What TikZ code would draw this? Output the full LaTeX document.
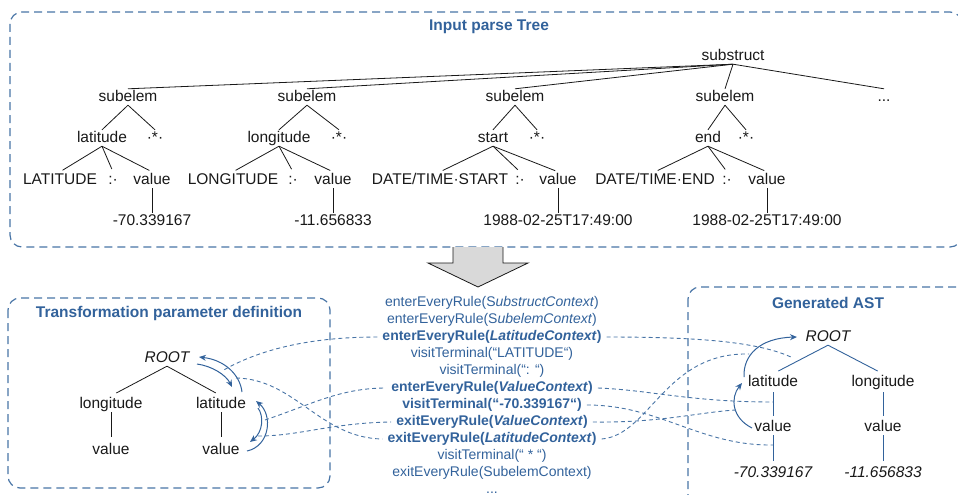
\documentclass[tikz,border=0pt]{standalone}
\usepackage{fontspec}
\setmainfont{Liberation Sans}
\usetikzlibrary{arrows.meta}
\definecolor{bl}{RGB}{50,98,155}
\definecolor{pl}{RGB}{72,116,166}
\definecolor{dk}{RGB}{25,25,25}
\definecolor{ag}{RGB}{217,217,217}
\newcommand\treefont{\fontsize{15.5}{18}\selectfont}
\newcommand\listfont{\fontsize{14}{16}\selectfont}
\newcommand\headfont{\fontsize{15.5}{18}\selectfont\bfseries}
\begin{document}
\begin{tikzpicture}[x=1pt,y=-1pt,
 tn/.style={font=\treefont,text=dk,inner sep=1pt,text height=11pt,text depth=3pt},
 ml/.style={font=\listfont,text=bl,inner xsep=5pt,inner ysep=1pt},
 ttl/.style={font=\headfont,text=bl},
 te/.style={draw=dk,line width=0.8pt},
 be/.style={draw=bl,line width=0.9pt},
 panel/.style={draw=pl,line width=1.2pt,dash pattern=on 8pt off 5pt,rounded corners=12pt},
 conn/.style={draw=pl,line width=0.9pt,dash pattern=on 4pt off 3pt},
 arcarrow/.style={draw=bl,line width=1pt,-{Stealth[length=7pt,width=6pt]}}]
\useasboundingbox (0,0) rectangle (958,495);

% panels
\draw[panel] (10,12) rectangle (962,247);
\draw[panel] (8,298) rectangle (330,488);
\draw[panel] (688,287) rectangle (980,520);

% big arrow
\fill[ag] (453,247) -- (453,263) -- (428,263) -- (478,287) -- (528,263) -- (503,263) -- (503,247) -- cycle;
\draw[draw=dk,line width=0.8pt] (453,247) -- (453,263) -- (428,263) -- (478,287) -- (528,263) -- (503,263) -- (503,247);

% titles
\node[ttl] (t1) at (489,27) {Input parse Tree};
\node[ttl] (t2) at (169,313) {Transformation parameter definition};
\node[ttl] (t3) at (828,303) {Generated AST};

% input parse tree
\node[tn] (sub) at (733,56) {substruct};
\node[tn] (s1) at (128,97) {subelem};
\node[tn] (s2) at (307,97) {subelem};
\node[tn] (s3) at (515,97) {subelem};
\node[tn] (s4) at (725,97) {subelem};
\node[tn] (s5) at (884,97) {...};
\node[tn] (lat) at (102,138) {latitude};
\node[tn] (st1) at (155,138) {·*·};
\node[tn] (lon) at (279,138) {longitude};
\node[tn] (st2) at (339,138) {·*·};
\node[tn] (sta) at (493,138) {start};
\node[tn] (st3) at (537,138) {·*·};
\node[tn] (en) at (708,138) {end};
\node[tn] (st4) at (746,138) {·*·};
\node[tn] (LAT) at (60,180) {LATITUDE};
\node[tn] (c1) at (113,180) {:·};
\node[tn] (v1) at (152,180) {value};
\node[tn] (LON) at (233,180) {LONGITUDE};
\node[tn] (c2) at (293,180) {:·};
\node[tn] (v2) at (333,180) {value};
\node[tn] (DTS) at (440,180) {DATE/TIME·START};
\node[tn] (c3) at (520,180) {:·};
\node[tn] (v3) at (558,180) {value};
\node[tn] (DTE) at (655,180) {DATE/TIME·END};
\node[tn] (c4) at (727,180) {:·};
\node[tn] (v4) at (767,180) {value};
\node[tn] (n1) at (152,221) {-70.339167};
\node[tn] (n2) at (333,221) {-11.656833};
\node[tn] (n3) at (558,221) {1988-02-25T17:49:00};
\node[tn] (n4) at (767,221) {1988-02-25T17:49:00};

\foreach \s in {s1,s2,s3,s4,s5} \draw[te] (sub.south) -- (\s.north);
\draw[te] (s1.south) -- (lat.north); \draw[te] (s1.south) -- (st1.north);
\draw[te] (s2.south) -- (lon.north); \draw[te] (s2.south) -- (st2.north);
\draw[te] (s3.south) -- (sta.north); \draw[te] (s3.south) -- (st3.north);
\draw[te] (s4.south) -- (en.north); \draw[te] (s4.south) -- (st4.north);
\foreach \p/\a/\b/\c in {lat/LAT/c1/v1, lon/LON/c2/v2, sta/DTS/c3/v3, en/DTE/c4/v4}{
  \draw[te,shorten >=3pt] (\p.south) -- (\a.north);
  \draw[te,shorten >=3pt] (\p.south) -- (\b.north);
  \draw[te,shorten >=3pt] (\p.south) -- (\c.north);
}
\draw[te] (v1.south) -- (n1.north);
\draw[te] (v2.south) -- (n2.north);
\draw[te] (v3.south) -- (n3.north);
\draw[te] (v4.south) -- (n4.north);

% transformation parameter definition tree
\node[tn,font=\treefont\itshape] (R) at (167,358) {ROOT};
\node[tn] (lo) at (111,404) {longitude};
\node[tn] (la) at (221,404) {latitude};
\node[tn] (va1) at (111,450) {value};
\node[tn] (va2) at (221,450) {value};
\draw[te,shorten >=6pt] (R.south) -- (lo.north);
\draw[te,shorten >=6pt] (R.south) -- (la.north);
\draw[te,shorten >=5pt] (lo.south) -- (va1.north);
\draw[te,shorten >=5pt] (la.south) -- (va2.north);

% arcs left
\coordinate (aOs) at (242,392); \coordinate (aOe) at (199,357);
\coordinate (aIs) at (197,364); \coordinate (aIe) at (232,387);
\coordinate (bOs) at (247,451); \coordinate (bOe) at (256,401);
\coordinate (bIs) at (258,408); \coordinate (bIe) at (250,442);
\draw[arcarrow] (aOs) .. controls (240,375) and (225,360) .. (aOe);
\draw[arcarrow] (aIs) .. controls (212,366) and (226,375) .. (aIe);
\draw[arcarrow] (bOs) .. controls (270,446) and (273,415) .. (bOe);
\draw[arcarrow] (bIs) .. controls (264,416) and (263,432) .. (bIe);

% generated AST
\node[tn,font=\treefont\itshape] (Rt) at (828,337) {ROOT};
\node[tn] (la2) at (773,382) {latitude};
\node[tn] (lo2) at (883,382) {longitude};
\node[tn] (vb1) at (773,427) {value};
\node[tn] (vb2) at (883,427) {value};
\node[tn,font=\treefont\itshape] (nb1) at (773,473) {-70.339167};
\node[tn,font=\treefont\itshape] (nb2) at (883,473) {-11.656833};
\draw[be,shorten >=6pt] (Rt.south) -- (la2.north);
\draw[be,shorten >=6pt] (Rt.south) -- (lo2.north);
\draw[be,shorten <=2pt,shorten >=3pt] (la2.south) -- (vb1.north);
\draw[be,shorten <=2pt,shorten >=3pt] (lo2.south) -- (vb2.north);
\draw[be,shorten >=4pt] (vb1.south) -- (nb1.north);
\draw[be,shorten >=4pt] (vb2.south) -- (nb2.north);

% arcs right
\coordinate (cAs) at (752,428); \coordinate (cAe) at (742,383);
\coordinate (cBs) at (744,377); \coordinate (cBe) at (797,337);
\draw[arcarrow] (cAs) .. controls (732,418) and (730,398) .. (cAe);
\draw[arcarrow] (cBs) .. controls (743,355) and (760,338) .. (cBe);

% middle list
\node[ml] (m1) at (492,303) {enterEveryRule(S\textit{ubstructContext})};
\node[ml] (m2) at (492,320) {enterEveryRule(S\textit{ubelemContext})};
\node[ml,font=\listfont\bfseries] (m3) at (492,337) {enterEveryRule(\textit{LatitudeContext})};
\node[ml] (m4) at (492,354) {visitTerminal(“LATITUDE“)};
\node[ml] (m5) at (492,371) {visitTerminal(“: “)};
\node[ml,font=\listfont\bfseries] (m6) at (492,388) {enterEveryRule(\textit{ValueContext})};
\node[ml,font=\listfont\bfseries] (m7) at (492,405) {visitTerminal(“-70.339167“)};
\node[ml,font=\listfont\bfseries] (m8) at (492,422) {exitEveryRule(\textit{ValueContext})};
\node[ml,font=\listfont\bfseries] (m9) at (492,439) {exitEveryRule(\textit{LatitudeContext})};
\node[ml] (m10) at (492,456) {visitTerminal(“ * “)};
\node[ml] (m11) at (492,473) {exitEveryRule(SubelemContext)};
\node[ml,anchor=base] (m12) at (492,493) {...};

% dashed connectors left
\coordinate (pA) at (222,371);
\coordinate (pB) at (236,378);
\coordinate (pC) at (265,420);
\coordinate (pD) at (258,436);
\draw[conn] (m3.west) .. controls (320,337) and (265,346) .. (pA);
\draw[conn] (pB) .. controls (295,379) and (320,438) .. (m9.west);
\draw[conn] (pC) .. controls (310,405) and (340,388) .. (m6.west);
\draw[conn] (pD) .. controls (300,436) and (330,423) .. (m8.west);

% dashed connectors right
\coordinate (pE) at (793,358);
\coordinate (pF) at (773,402);
\coordinate (pG) at (773,445);
\coordinate (pH) at (736,410);
\coordinate (pI) at (749,354);
\draw[conn] (m3.east) .. controls (700,337) and (760,342) .. (pE);
\draw[conn] (m6.east) .. controls (650,390) and (690,402) .. (pF);
\draw[conn] (m7.east) .. controls (660,405) and (700,446) .. (pG);
\draw[conn] (m8.east) .. controls (660,423) and (700,412) .. (pH);
\draw[conn] (m9.east) .. controls (650,435) and (665,352) .. (pI);
\end{tikzpicture}
\end{document}
